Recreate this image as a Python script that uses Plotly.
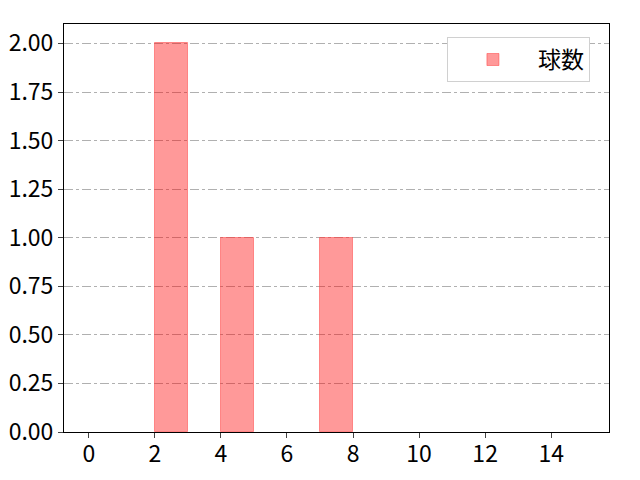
import plotly.graph_objects as go

bin_left = list(range(0, 15))
counts = [0, 0, 2, 0, 1, 0, 0, 1, 0, 0, 0, 0, 0, 0, 0]
series_name = "球数"
x_ticks = [0, 2, 4, 6, 8, 10, 12, 14]
y_ticks = [0, 0.25, 0.5, 0.75, 1.0, 1.25, 1.5, 1.75, 2.0]

FONT = "Noto Sans CJK JP"

bx = [b for b, c in zip(bin_left, counts) if c > 0]
by = [c for c in counts if c > 0]

fig = go.Figure()
fig.add_trace(go.Bar(
    x=bx, y=by, width=1, offset=0, name=series_name,
    marker=dict(color="rgba(255,0,0,0.4)", line=dict(color="rgba(255,60,60,0.5)", width=1)),
    showlegend=True,
))
fig.update_layout(
    width=640, height=480,
    margin=dict(l=56, r=39, t=16, b=56),
    plot_bgcolor="white", paper_bgcolor="white",
    font=dict(family=FONT, size=23, color="black"),
    bargap=0,
    xaxis=dict(range=[-0.75, 15.75], tickvals=x_ticks, ticks="outside", ticklen=5,
               showline=True, linecolor="black", linewidth=1, mirror=True,
               showgrid=False, zeroline=False, automargin=False,
               ticklabelstandoff=-4),
    yaxis=dict(range=[0, 2.1], tickvals=y_ticks, tickformat=".2f", ticks="outside", ticklen=5,
               showline=True, linecolor="black", linewidth=1, mirror=True,
               showgrid=True, gridcolor="#b0b0b0", griddash="dashdot", gridwidth=1,
               zeroline=False, automargin=False),
    legend=dict(x=0.965, y=0.968, xanchor="right", yanchor="top",
                bordercolor="#d0d0d0", borderwidth=1, bgcolor="white",
                itemwidth=80, font=dict(size=23)),
)
fig.write_html("out.html")
